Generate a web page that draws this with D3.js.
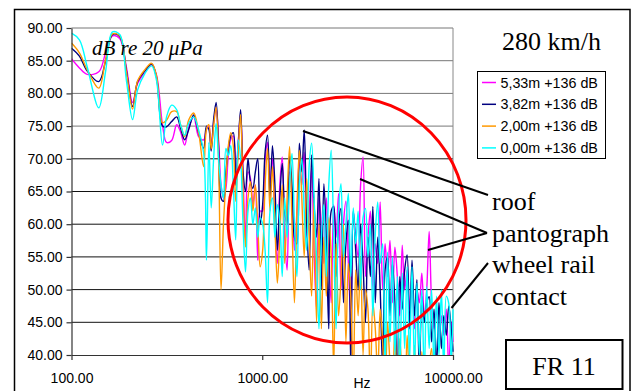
<!DOCTYPE html>
<html><head><meta charset="utf-8">
<script src="https://cdn.jsdelivr.net/npm/d3@7"></script>
<style>html,body{margin:0;padding:0;background:#fff;}svg{display:block;}</style>
</head><body>
<svg id="c" width="634" height="391"></svg>
<script>
// ---- data ----
const freqs = [100,110,121,139,151,164,179,194,209,222,242,263,279,300,315,335,356,373,392,411,437,464,493,
510,525,540,556,573,590,608,626,645,664,684,705,726,748,770,793,817,842,867,893,920,947,975,
1005,1035,1066,1098,1131,1165,1200,1236,1273,1311,1350,1391,1432,1475,1520,1565,1612,1660,1710,1762,1815,1869,1925,1983,
2042,2104,2167,2232,2299,2368,2439,2512,2587,2665,2745,2827,2912,3000,3090,3182,3278,3376,3477,3582,
3689,3800,3914,4031,4152,4277,4405,4537,4673,4814,4958,5107,5260,5418,5580,5748,5920,6098,6281,6469,
6663,6863,7069,7281,7500,7725,7956,8195,8441,8694,8955,9224,9500,9785,10000];

const s533 = [85.3,83.9,82.9,83.3,86.2,88.8,88.4,84.0,78.6,81.5,83.2,84.4,82.8,75.2,72.5,72.8,75.2,74.1,72.1,74.7,76.4,73.4,72.9,
74.5,75.0,72.0,75.5,77.8,73.0,66.0,64.0,65.5,70.5,73.0,73.5,67.0,72.5,76.8,67.5,57.5,68.0,67.0,63.0,66.0,54.5,62.0,
62.0,70.0,72.5,66.0,70.0,60.0,54.0,66.0,70.3,58.0,53.0,68.0,64.5,56.0,62.0,70.0,66.0,71.0,58.0,62.0,68.5,56.0,47.0,64.0,
60.0,54.0,64.0,56.0,48.0,63.0,58.0,64.7,50.0,60.0,63.5,54.0,46.0,62.0,58.0,55.0,66.0,70.3,52.0,58.0,62.0,50.0,57.0,54.0,63.4,50.0,57.0,52.0,57.5,48.0,56.5,52.0,46.0,56.8,50.0,53.0,47.0,52.0,44.0,50.0,48.0,52.5,46.0,50.0,58.9,48.0,44.0,47.0,42.0,46.0,43.0,47.0,38.0,45.0,42.0];

const s382 = [86.9,85.7,83.4,81.8,85.0,89.0,88.7,83.5,78.0,81.8,83.4,84.5,82.5,75.0,74.9,75.7,76.4,74.7,72.9,74.4,76.7,73.9,71.6,
75.0,74.5,71.2,76.0,78.6,72.0,64.0,63.5,68.0,71.5,73.5,74.0,66.0,72.0,77.5,68.0,65.0,70.0,66.5,65.5,68.0,70.0,60.0,
63.0,71.0,73.6,64.0,72.0,66.0,56.0,64.0,69.3,62.0,60.0,70.5,66.0,58.0,57.0,72.4,68.0,74.4,60.0,53.0,70.6,63.0,58.0,67.0,
50.0,66.2,58.0,44.0,62.0,62.7,52.0,60.0,62.4,48.0,57.0,60.6,38.0,62.0,56.0,50.0,60.0,54.0,45.0,58.0,52.0,62.7,48.0,58.0,50.0,38.0,53.0,55.0,46.0,54.0,48.0,36.0,52.0,47.0,53.0,55.3,44.0,54.5,46.0,51.5,37.0,49.0,45.0,48.0,48.9,42.0,47.0,38.0,48.0,41.0,46.0,43.0,47.5,44.0,40.5];

const s200 = [87.7,86.2,83.6,80.8,85.2,89.1,88.8,83.3,77.6,81.9,83.6,84.6,82.7,75.5,75.9,77.2,77.2,75.2,73.4,75.9,77.0,74.0,68.8,
74.5,75.2,71.5,75.0,77.9,70.0,50.0,60.0,67.0,72.0,74.0,72.0,63.5,71.0,76.8,65.0,56.5,64.0,66.5,62.0,66.0,60.0,53.5,
56.0,66.0,71.6,62.0,68.8,60.0,51.0,58.0,66.0,54.0,64.0,71.9,60.0,48.0,62.0,71.3,64.0,55.0,67.0,58.0,49.0,64.0,45.0,60.0,
44.0,58.0,49.0,61.0,55.0,38.0,57.0,46.0,52.0,60.0,42.0,54.0,49.0,36.0,53.0,46.0,55.0,40.0,50.0,47.0,35.0,48.0,44.0,37.0,47.0,42.0,34.0,45.0,39.0,36.0,44.0,33.0,42.5,36.0,32.0,43.0,35.0,31.0,41.5,34.0,30.0,40.5,33.0,30.0,38.0,41.0,32.0,30.0,36.0,30.0,33.0,30.0,31.0,30.0,30.0];

const s000 = [89.2,88.2,84.0,77.8,83.4,89.4,89.0,82.0,76.0,80.5,83.0,84.2,82.0,72.1,76.4,78.2,77.5,75.2,73.6,75.4,76.4,74.4,70.9,
54.5,72.5,62.5,70.0,75.4,70.0,66.0,64.0,71.6,70.5,72.0,66.0,57.6,72.9,70.0,60.0,52.7,62.0,64.0,60.0,62.5,58.0,61.0,
60.0,56.0,48.0,62.0,64.0,58.0,63.0,60.5,52.0,64.0,58.0,66.0,70.8,60.0,52.0,66.0,70.0,62.0,56.0,69.0,72.4,64.0,55.0,44.0,
58.0,63.0,52.0,66.0,71.3,58.0,44.0,62.0,66.2,55.0,60.0,64.7,52.0,62.5,57.0,62.0,50.0,61.0,62.4,55.0,60.0,46.0,58.5,63.4,54.0,57.0,
38.0,55.7,42.0,55.0,40.0,52.0,37.0,52.5,41.0,53.5,39.0,53.5,38.0,51.0,40.0,50.0,37.0,50.5,41.0,50.0,38.0,49.0,40.0,50.0,37.0,49.0,47.9,39.0,47.0];

const seriesNames = ["5,33m +136 dB","3,82m +136 dB","2,00m +136 dB","0,00m +136 dB"];
const seriesColors = ["#ff00ff","#000080","#ff9900","#00ffff"];
const seriesValues = [s533, s382, s200, s000];
const yTicks = [40,45,50,55,60,65,70,75,80,85,90];
const xTicks = [100,1000,10000];
const annotations = ["roof","pantograph","wheel rail","contact"];

// ---- drawing ----
const svg = d3.select("#c");
const L = 71.5, R = 453, T = 28, B = 355;
const x = d3.scaleLog().domain([100,10000]).range([L,R]);
const y = d3.scaleLinear().domain([40,90]).range([B,T]);

// outer border
svg.append("rect").attr("x",14.5).attr("y",9.5).attr("width",615.5).attr("height",400)
  .attr("fill","none").attr("stroke","#000").attr("stroke-width",1.5);

// gridlines
svg.append("g").selectAll("line").data(yTicks.filter(d=>d>40)).join("line")
  .attr("x1",L).attr("x2",R).attr("y1",d=>y(d)).attr("y2",d=>y(d))
  .attr("stroke",d=>d>=75?"#777":"#111").attr("stroke-width",1);
// plot right border
svg.append("line").attr("x1",R).attr("x2",R).attr("y1",T).attr("y2",B).attr("stroke","#888").attr("stroke-width",1);

// clip
svg.append("clipPath").attr("id","pc").append("rect").attr("x",L).attr("y",T-2).attr("width",R-L+1).attr("height",B-T+2);

const line = d3.line().x(d=>x(d[0])).y(d=>y(d[1])).curve(d3.curveCatmullRom.alpha(0.5));
const g = svg.append("g").attr("clip-path","url(#pc)");
seriesValues.forEach((vals,i)=>{
  g.append("path").datum(freqs.map((f,j)=>[f,vals[j]]))
   .attr("d",line).attr("fill","none").attr("stroke",seriesColors[i]).attr("stroke-width",1.4)
   .attr("stroke-linejoin","round");
});

// axes
const yAxis = svg.append("g").attr("transform",`translate(${L},0)`)
  .call(d3.axisLeft(y).tickValues(yTicks).tickFormat(d3.format(".2f")).tickSize(5).tickSizeOuter(0).tickPadding(4));
const xAxis = svg.append("g").attr("transform",`translate(0,${B})`)
  .call(d3.axisBottom(x).tickValues(xTicks).tickFormat(d3.format(".2f")).tickSize(5).tickSizeOuter(0).tickPadding(13));
[yAxis,xAxis].forEach(a=>{
  a.selectAll("text").attr("font-family","Liberation Sans, Arial, sans-serif").attr("font-size",14).attr("fill","#000");
  a.selectAll("path,line").attr("stroke","#333").attr("stroke-width",1.2);
});

svg.append("text").attr("x",362).attr("y",388).attr("text-anchor","middle")
  .attr("font-family","Liberation Sans, Arial, sans-serif").attr("font-size",14).text("Hz");

// dB re label
svg.append("text").attr("x",92).attr("y",55).attr("font-family","Liberation Serif, Times New Roman, serif")
  .attr("font-style","italic").attr("font-size",21).text("dB re 20 \u03bcPa");

// title
svg.append("text").attr("x",601).attr("y",50).attr("text-anchor","end")
  .attr("font-family","Liberation Serif, Times New Roman, serif").attr("font-size",26).text("280 km/h");

// legend
const lg = svg.append("g");
lg.append("rect").attr("x",477.5).attr("y",71.5).attr("width",128).attr("height",87)
  .attr("fill","#fff").attr("stroke","#000").attr("stroke-width",1);
seriesNames.forEach((n,i)=>{
  const cy = 82.5 + i*21.8;
  lg.append("line").attr("x1",482).attr("x2",496).attr("y1",cy).attr("y2",cy).attr("stroke",seriesColors[i]).attr("stroke-width",1.5);
  lg.append("text").attr("x",500.5).attr("y",cy+5).attr("font-family","Liberation Sans, Arial, sans-serif")
    .attr("font-size",14.3).text(n);
});

// red circle
svg.append("ellipse").attr("cx",347).attr("cy",220).attr("rx",119).attr("ry",123)
  .attr("fill","none").attr("stroke","#ff0000").attr("stroke-width",3);

// pointer lines
const ptrs = [[303,131,488,195],[360,179,487,233],[428,250,487,233],[451.5,308,488,263]];
svg.append("g").selectAll("line").data(ptrs).join("line")
  .attr("x1",d=>d[0]).attr("y1",d=>d[1]).attr("x2",d=>d[2]).attr("y2",d=>d[3])
  .attr("stroke","#000").attr("stroke-width",2);

const baselines = [210,242,273,305];
annotations.forEach((t,i)=>{
  svg.append("text").attr("x",492).attr("y",baselines[i])
    .attr("font-family","Liberation Serif, Times New Roman, serif").attr("font-size",26).text(t);
});

// FR 11 box
svg.append("rect").attr("x",506).attr("y",340).attr("width",116.5).attr("height",49)
  .attr("fill","#fff").attr("stroke","#000").attr("stroke-width",2);
svg.append("text").attr("x",564).attr("y",375).attr("text-anchor","middle")
  .attr("font-family","Liberation Serif, Times New Roman, serif").attr("font-size",26).text("FR 11");
</script>
</body></html>
